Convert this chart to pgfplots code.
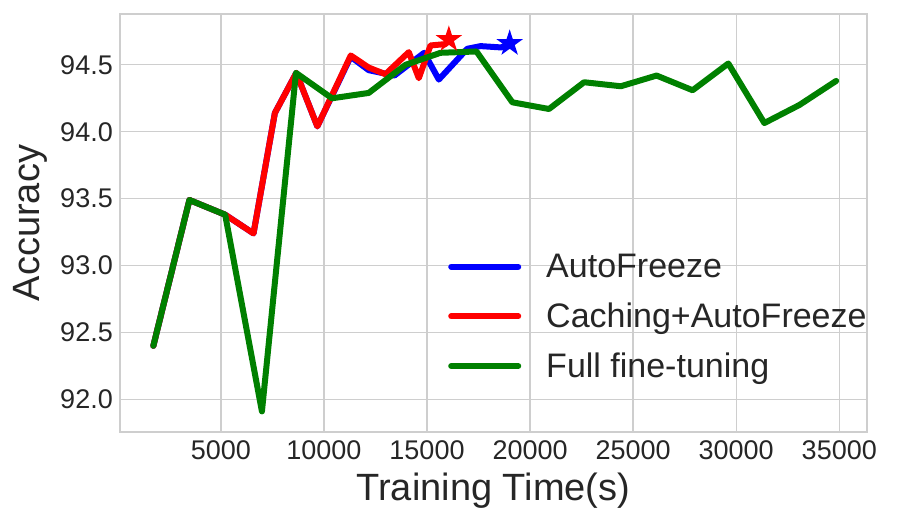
\documentclass[border=0pt]{standalone}
\usepackage{fontspec}
\setmainfont{Liberation Sans}
\usepackage{pgfplots}
\pgfplotsset{compat=1.18}
\definecolor{tg}{RGB}{38,38,38}
\definecolor{gridc}{RGB}{206,206,206}
\definecolor{mgreen}{RGB}{0,128,0}
\pgfdeclareplotmark{fstar}{%
  \pgfpathmoveto{\pgfpointpolar{90}{\pgfplotmarksize}}%
  \pgfpathlineto{\pgfpointpolar{126}{0.382*\pgfplotmarksize}}%
  \pgfpathlineto{\pgfpointpolar{162}{\pgfplotmarksize}}%
  \pgfpathlineto{\pgfpointpolar{198}{0.382*\pgfplotmarksize}}%
  \pgfpathlineto{\pgfpointpolar{234}{\pgfplotmarksize}}%
  \pgfpathlineto{\pgfpointpolar{270}{0.382*\pgfplotmarksize}}%
  \pgfpathlineto{\pgfpointpolar{306}{\pgfplotmarksize}}%
  \pgfpathlineto{\pgfpointpolar{342}{0.382*\pgfplotmarksize}}%
  \pgfpathlineto{\pgfpointpolar{18}{\pgfplotmarksize}}%
  \pgfpathlineto{\pgfpointpolar{54}{0.382*\pgfplotmarksize}}%
  \pgfpathclose
  \pgfusepathqfill}
\begin{document}
\begin{tikzpicture}
\begin{axis}[
  at={(0pt,0pt)}, anchor=south west,
  scale only axis, width=746.7pt, height=418pt,
  xmin=107, xmax=36330, ymin=91.756, ymax=94.88,
  xtick={5000,10000,15000,20000,25000,30000,35000},
  ytick={92,92.5,93,93.5,94,94.5},
  scaled x ticks=false, scaled y ticks=false,
  grid=major, major grid style={gridc, line width=1.3pt},
  axis line style={gridc, line width=1.6pt},
  major tick length=0pt, tick style={draw=none},
  /pgf/number format/assume math mode=true,
  tick label style={font=\fontsize{27}{32}\selectfont, text=tg},
  xticklabel style={anchor=north, inner sep=0pt, yshift=-8pt},
  x tick label style={/pgf/number format/1000 sep={}, /pgf/number format/fixed, /pgf/number format/precision=0},
  yticklabel style={anchor=east, inner sep=0pt, xshift=-7pt},
  y tick label style={/pgf/number format/fixed, /pgf/number format/fixed zerofill, /pgf/number format/precision=1},
  xlabel={Training Time(s)}, ylabel={Accuracy},
  label style={font=\fontsize{38}{44}\selectfont, text=tg},
  xlabel style={at={(axis description cs:0.5,0)}, anchor=north, inner sep=0pt, yshift=-40.5pt},
  ylabel style={at={(axis description cs:-0.1205,0.5)}, anchor=center, inner sep=0pt},
  legend style={at={(axis description cs:0.4393,0.432)}, anchor=north west, draw=none, fill=none,
    inner sep=0pt, row sep=15.7pt, column sep=0pt, font=\fontsize{34}{40}\selectfont, text=tg,
    nodes={inner sep=0pt, text height=26pt, text depth=8pt}},
  legend cell align=left,
  legend image code/.code={\draw[#1, line width=6pt, line cap=round] (3pt,2pt) -- (70pt,2pt); \path[draw=none, fill=none] (0pt,0pt) -- (98pt,0pt);},
]
\addplot[blue, line width=6pt, line join=round, line cap=round] coordinates {
(1725,92.40) (3474,93.49) (5209,93.38) (6584,93.24) (7620,94.14) (8660,94.44) (9680,94.04)
(11300,94.56) (12172,94.46) (13421,94.42) (14860,94.59) (15574,94.39) (16953,94.62)
(17600,94.64) (18600,94.63) (19010,94.66)};
\addlegendentry{AutoFreeze}
\addplot[red, line width=6pt, line join=round, line cap=round] coordinates {
(1725,92.40) (3474,93.49) (5209,93.38) (6584,93.24) (7620,94.14) (8660,94.44) (9680,94.04)
(11300,94.57) (12172,94.48) (12984,94.43) (14116,94.595) (14602,94.40) (15170,94.645)
(15900,94.655) (16060,94.69)};
\addlegendentry{Caching+AutoFreeze}
\addplot[mgreen, line width=6pt, line join=round, line cap=round] coordinates {
(1725,92.40) (3474,93.49) (5209,93.38) (6992,91.91) (8644,94.44) (10394,94.25) (12172,94.29)
(13955,94.50) (15656,94.59) (17400,94.60) (19140,94.22) (20918,94.17) (22619,94.37)
(24403,94.34) (26137,94.42) (27886,94.31) (29616,94.51) (31365,94.065) (33066,94.20) (34849,94.38)};
\addlegendentry{Full fine-tuning}
\addplot[only marks, mark=fstar, mark size=14pt, blue, forget plot] coordinates {(19010,94.66)};
\addplot[only marks, mark=fstar, mark size=14pt, red, forget plot] coordinates {(16060,94.69)};
\end{axis}
\pgfresetboundingbox
\useasboundingbox (-120pt,-90pt) rectangle (780pt,432pt);
\end{tikzpicture}
\end{document}
